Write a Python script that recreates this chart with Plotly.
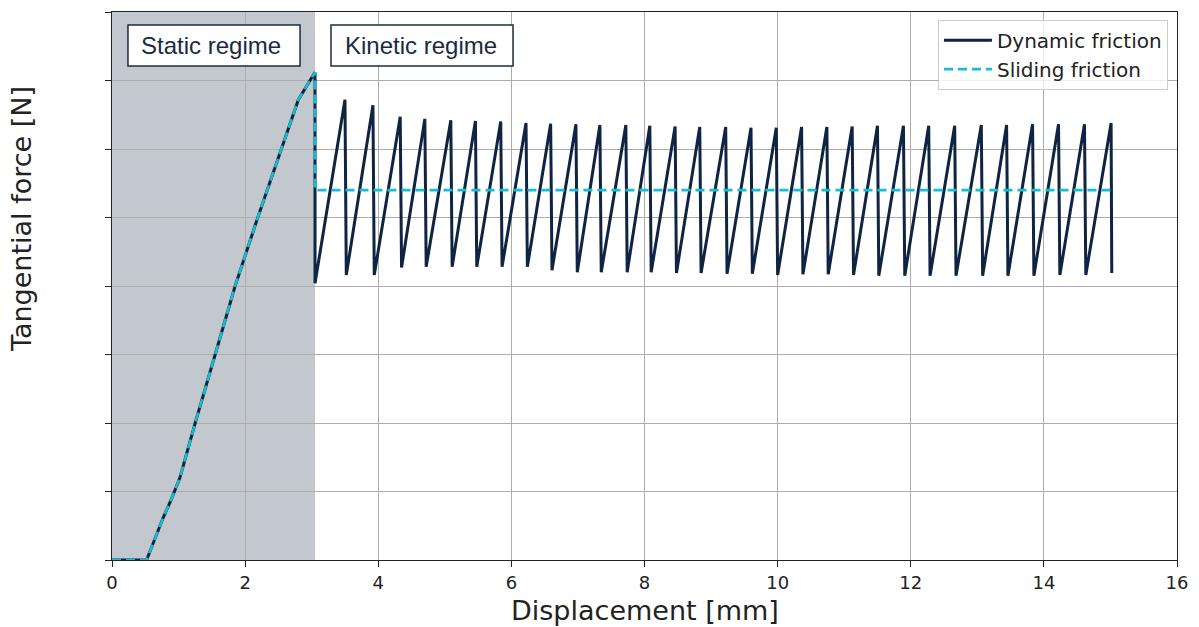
import plotly.graph_objects as go

# Loading phase (static regime): displacement [mm] vs tangential force
static_x = [0.0, 0.52, 0.77, 0.88, 1.02, 1.25, 1.55, 1.85, 2.19, 2.55, 2.80, 3.05]
static_y = [0.0, 0.0, 0.62, 0.86, 1.20, 2.00, 3.00, 4.00, 5.00, 6.00, 6.72, 7.12]

# Break-away point and first slip
breakaway_x = 3.05
first_trough_y = 4.04

# Stick-slip cycles (kinetic regime)
peak_x = [3.50, 3.92, 4.33, 4.70, 5.09, 5.46, 5.84, 6.22, 6.59, 6.97, 7.33,
          7.72, 8.08, 8.46, 8.83, 9.22, 9.60, 9.98, 10.36, 10.74, 11.12, 11.50,
          11.89, 12.27, 12.66, 13.06, 13.44, 13.83, 14.22, 14.61, 15.01]
peak_y = [6.72, 6.64, 6.47, 6.44, 6.42, 6.41, 6.40, 6.38, 6.37, 6.36, 6.35,
          6.35, 6.34, 6.33, 6.32, 6.32, 6.31, 6.31, 6.32, 6.32, 6.33, 6.34,
          6.34, 6.34, 6.34, 6.35, 6.35, 6.36, 6.36, 6.36, 6.38]
trough_x = [3.52, 3.94, 4.35, 4.72, 5.11, 5.48, 5.86, 6.24, 6.61, 6.99, 7.35,
            7.74, 8.10, 8.48, 8.85, 9.24, 9.62, 10.00, 10.38, 10.76, 11.14, 11.52,
            11.91, 12.29, 12.68, 13.08, 13.46, 13.85, 14.24, 14.63, 15.02]
trough_y = [4.16, 4.16, 4.27, 4.28, 4.28, 4.28, 4.28, 4.28, 4.23, 4.20, 4.20,
            4.20, 4.20, 4.19, 4.19, 4.18, 4.18, 4.16, 4.17, 4.17, 4.16, 4.15,
            4.15, 4.15, 4.15, 4.15, 4.15, 4.15, 4.16, 4.16, 4.19]

# Mean sliding friction level
sliding_level = 5.40
sliding_end_x = 15.01

x_ticks = [0, 2, 4, 6, 8, 10, 12, 14, 16]

# Regime labels: text, box extent (x0, x1, y0, y1) and text start
regime_labels = ["Static regime", "Kinetic regime"]
regime_boxes = [(0.24, 2.825, 7.21, 7.81), (3.29, 6.025, 7.21, 7.81)]
regime_text_x = [0.41, 3.47]

NAVY = "#0e2442"
CYAN = "#17becf"
LABEL_NAVY = "#1b2a40"

# Dynamic friction path: loading ramp, drop, then sawtooth cycles
dyn_x = list(static_x) + [breakaway_x]
dyn_y = list(static_y) + [first_trough_y]
for px, py, tx, ty in zip(peak_x, peak_y, trough_x, trough_y):
    dyn_x += [px, tx]
    dyn_y += [py, ty]

# Sliding friction path: loading ramp, then constant level
sld_x = list(static_x) + [breakaway_x, sliding_end_x]
sld_y = list(static_y) + [sliding_level, sliding_level]

fig = go.Figure()
fig.add_trace(go.Scatter(
    x=dyn_x, y=dyn_y, mode="lines", name="Dynamic friction",
    line=dict(color=NAVY, width=3),
))
fig.add_trace(go.Scatter(
    x=sld_x, y=sld_y, mode="lines", name="Sliding friction",
    line=dict(color=CYAN, width=2.6, dash="9px,5px"),
))

# Static regime shading
fig.add_shape(type="rect", xref="x", yref="paper", x0=0, x1=breakaway_x,
              y0=0, y1=1, fillcolor="rgba(73,88,110,0.33)", line_width=0,
              layer="between")

box_font = dict(family="Liberation Sans, Arial, sans-serif", size=24, color=LABEL_NAVY)
for label, (x0, x1, y0, y1), tx in zip(regime_labels, regime_boxes, regime_text_x):
    fig.add_shape(type="rect", xref="x", yref="y", x0=x0, x1=x1, y0=y0, y1=y1,
                  fillcolor="white", line=dict(color=LABEL_NAVY, width=1.5),
                  layer="above")
    fig.add_annotation(
        x=tx, y=(y0 + y1) / 2, xref="x", yref="y", xanchor="left", yanchor="middle",
        text=label, showarrow=False, font=box_font,
    )

# Axis titles
title_font = dict(family="DejaVu Sans, sans-serif", size=27, color="#222222")
fig.add_annotation(x=0.5, y=-0.093, xref="paper", yref="paper",
                   text="Displacement [mm]", showarrow=False, font=title_font,
                   xanchor="center", yanchor="middle")
fig.add_annotation(x=-0.085, y=0.623, xref="paper", yref="paper",
                   text="Tangential force [N]", showarrow=False, font=title_font,
                   textangle=-90, xanchor="center", yanchor="middle")

axis_common = dict(
    showline=True, linecolor="#222222", linewidth=1.4, mirror=True,
    showgrid=True, gridcolor="#adadad", gridwidth=1.4,
    ticks="outside", ticklen=6, tickwidth=1.3, tickcolor="#222222",
    zeroline=False,
)

fig.update_xaxes(range=[0, 16], tickvals=x_ticks,
                 tickfont=dict(family="DejaVu Sans, sans-serif", size=18, color="#222222"),
                 **axis_common)
fig.update_yaxes(range=[0, 8], dtick=1, showticklabels=False, **axis_common)

fig.update_layout(
    width=1199, height=627,
    margin=dict(l=112, r=22, t=12, b=67),
    plot_bgcolor="white", paper_bgcolor="white",
    font=dict(family="DejaVu Sans, sans-serif", color="#222222"),
    showlegend=True,
    legend=dict(
        x=0.9915, y=0.986, xanchor="right", yanchor="top",
        bgcolor="rgba(255,255,255,0.8)", bordercolor="#cccccc", borderwidth=1,
        itemwidth=48,
        font=dict(family="DejaVu Sans, sans-serif", size=20, color="#222222"),
    ),
)

fig.write_html("out.html")
